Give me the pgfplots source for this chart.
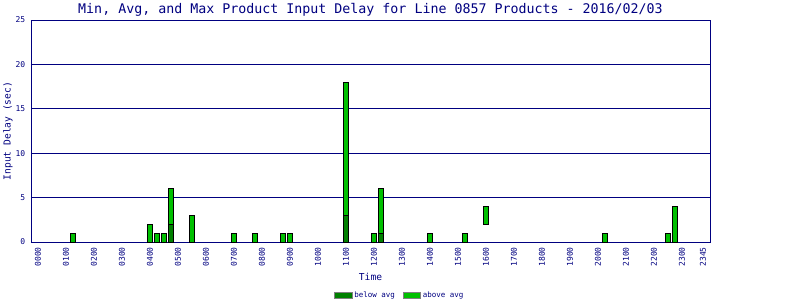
\documentclass[border=0pt]{standalone}
\usepackage{pgfplots}
\pgfplotsset{compat=1.18}
\usepackage{pgfplotstable}
\usepackage{fontspec}
\setmainfont{DejaVu Sans Mono}
\setmonofont{DejaVu Sans Mono}
\definecolor{navyc}{RGB}{0,0,128}
\definecolor{dkgreen}{RGB}{0,128,0}
\definecolor{ltgreen}{RGB}{0,192,0}
\pgfplotstableread{
k base below above
5 0 0 1
16 0 0 2
17 0 0 1
18 0 0 1
19 0 2 4
22 0 0 3
28 0 0 1
31 0 0 1
35 0 0 1
36 0 0 1
44 0 3 15
48 0 0 1
49 0 1 5
56 0 0 1
61 0 0 1
64 2 0 2
81 0 0 1
90 0 0 1
91 0 0 4
}\delaydata
\begin{document}
\begin{tikzpicture}
\path[use as bounding box] (0,0) rectangle (800pt,300pt);
\begin{axis}[
  at={(31pt,58pt)}, anchor=south west,
  scale only axis, width=679pt, height=222pt,
  xmin=-1, xmax=96, ymin=0, ymax=25,
  ybar stacked, bar width=4.6pt,
  axis line style={navyc, line width=0.9pt},
  ymajorgrids, grid style={navyc, line width=0.9pt},
  major tick length=0pt,
  ytick={0,5,...,25},
  xtick={0,4,...,92,95},
  xticklabels={0000,0100,0200,0300,0400,0500,0600,0700,0800,0900,1000,1100,1200,1300,1400,1500,1600,1700,1800,1900,2000,2100,2200,2300,2345},
  /pgf/number format/assume math mode=true,
  ticklabel style={font=\fontsize{8}{8}\selectfont, text=navyc},
  xticklabel style={rotate=90, anchor=east, inner sep=0pt, xshift=-5pt},
  yticklabel style={anchor=east, inner sep=0pt, xshift=-5.5pt},
  title={Min, Avg, and Max Product Input Delay for Line 0857 Products - 2016/02/03},
  title style={font=\fontsize{13.3}{15}\selectfont, text=navyc, at={(axis description cs:0.5,1)}, anchor=center, yshift=4pt},
  xlabel={Time},
  xlabel style={font=\fontsize{9.6}{11}\selectfont, text=navyc, at={(axis description cs:0.5,0)}, anchor=center, yshift=-35pt},
  ylabel={Input Delay (sec)},
  ylabel style={font=\fontsize{9.6}{11}\selectfont, text=navyc, at={(axis description cs:0,0.5)}, anchor=center, yshift=23pt},
  legend style={at={(axis description cs:0.5434,-0.239)}, anchor=center, legend columns=2, draw=none, fill=none, font=\fontsize{7.5}{8}\selectfont, text=navyc, /tikz/every even column/.append style={column sep=6pt}},
]
\addplot[forget plot, draw=none, fill=none] table[x=k, y=base] {\delaydata};
\addplot[forget plot, draw=black, line width=0.8pt, fill=dkgreen] table[x=k, y=below] {\delaydata};
\addplot[forget plot, draw=black, line width=0.8pt, fill=ltgreen] table[x=k, y=above] {\delaydata};
\addlegendimage{area legend, draw=gray, line width=0.8pt, fill=dkgreen}
\addlegendentry{below avg}
\addlegendimage{area legend, draw=gray, line width=0.8pt, fill=ltgreen}
\addlegendentry{above avg}
\end{axis}
\end{tikzpicture}
\end{document}
